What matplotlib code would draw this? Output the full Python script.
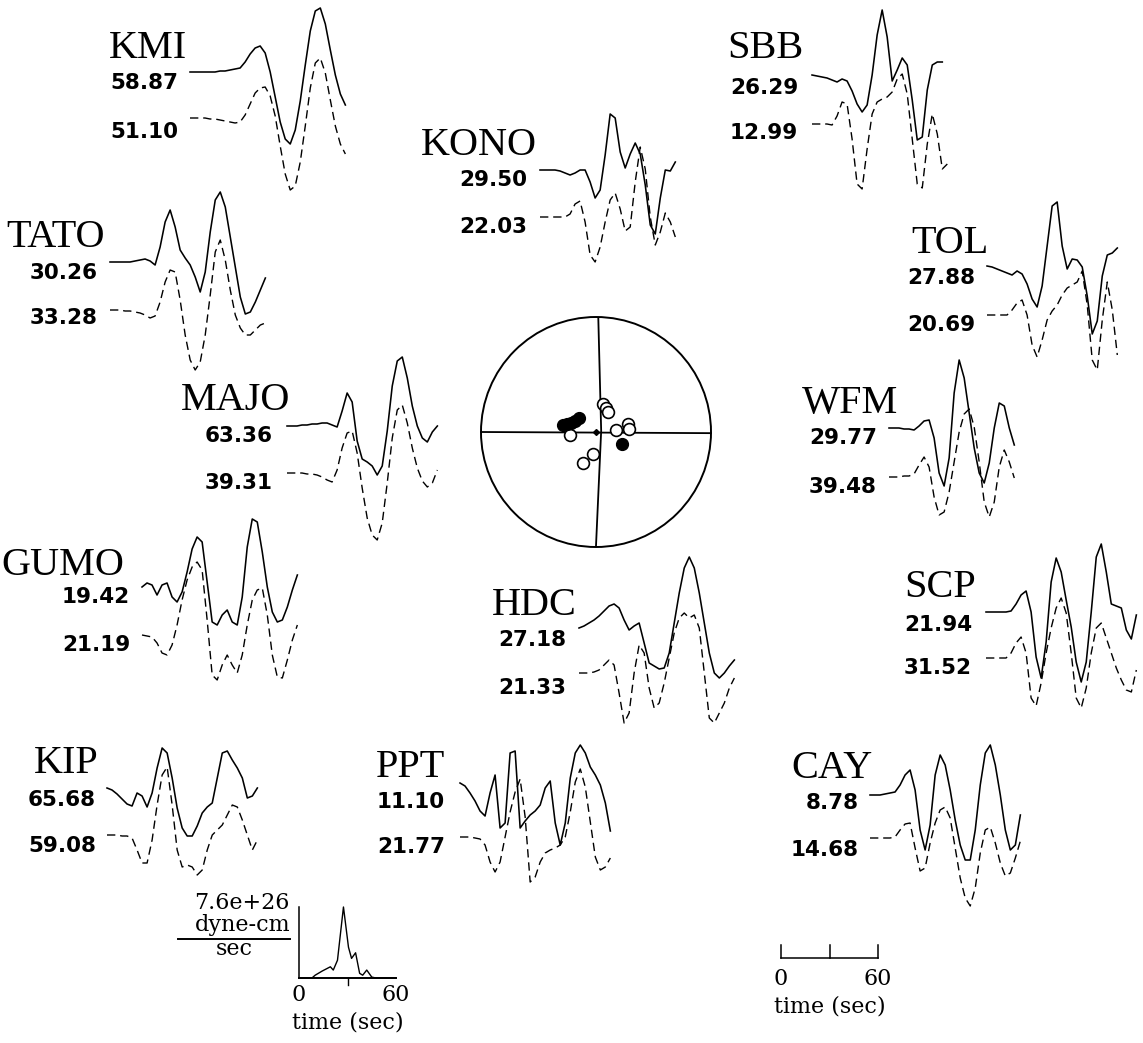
import numpy as np
import matplotlib
matplotlib.use("Agg")
import matplotlib.pyplot as plt
from matplotlib.patches import Circle

# ---------------------------------------------------------------------------
# Waveforms: observed (solid) and synthetic (dashed), amplitude samples taken
# every SAMPLE_INTERVAL seconds, normalised display units (up positive).
# ---------------------------------------------------------------------------
SAMPLE_INTERVAL = 3.1          # s between samples
PX_PER_SEC = 97.0 / 60.0       # time scale of the record section

KMI_OBS = [0, 0, 0, 0, 0, 0, 1, 1, 2, 3, 4, 10, 18, 24, 26, 19, 0, -25, -50, -67, -72, -58, -29, 7, 41, 61, 64, 48, 22, -3, -22, -33]
KMI_SYN = [0, 0, 0, 0, -1, -1, -2, -3, -4, -5, -4, 3, 14, 25, 30, 31, 22, 2, -28, -56, -72, -68, -44, -8, 30, 55, 60, 45, 18, -8, -26, -36]

KONO_OBS = [0, 0, 0, 0, -1, -3, -5, -3, 0, 0, -12, -28, -20, 15, 56, 52, 18, 2, 16, 27, 16, -15, -55, -64, -28, 0, -1, 8]
KONO_SYN = [0, 0, 0, 0, 0, 0, 3, 13, 16, -5, -38, -45, -30, -5, 17, 24, 8, -14, -10, 35, 70, 48, 0, -28, -15, 4, -5, -20]

SBB_OBS = [0, -1, -2, -3, -5, -7, -4, -6, -16, -29, -37, -30, 0, 40, 65, 38, -6, 5, 17, 10, -25, -65, -62, -15, 10, 13, 13]
SBB_SYN = [0, 0, 0, 0, -1, 8, 22, 20, -15, -60, -65, -25, 10, 22, 25, 27, 32, 45, 50, 30, -15, -60, -64, -20, 10, -10, -45, -40]

TATO_OBS = [0, 0, 0, 0, 0, 1, 2, 3, 1, -3, 15, 40, 52, 35, 12, 4, -3, -15, -30, -10, 30, 62, 70, 55, 25, -5, -35, -52, -50, -40, -28, -16]
TATO_SYN = [0, 0, 0, -1, -1, -2, -3, -5, -8, -6, 8, 28, 40, 38, 10, -25, -50, -60, -52, -25, 15, 58, 70, 50, 20, -5, -18, -25, -25, -20, -15, -13]

TOL_OBS = [0, -1, -3, -5, -7, -9, -5, -8, -18, -33, -41, -20, 20, 60, 64, 20, -3, 7, 6, -1, -30, -68, -55, -10, 11, 13, 18]
TOL_SYN = [0, 0, 0, 0, 0, 5, 12, 15, 0, -30, -42, -25, -5, 4, 10, 20, 27, 30, 33, 44, 10, -45, -55, -5, 33, 5, -40]

MAJO_OBS = [0, 0, 0, 1, 1, 2, 2, 3, 3, 1, -1, 15, 33, 24, -15, -33, -36, -40, -49, -40, -5, 40, 65, 69, 48, 20, 0, -12, -16, -6, 0]
MAJO_SYN = [0, 0, 0, 0, -1, -1, -2, -4, -7, -9, 3, 25, 40, 42, 20, -15, -45, -62, -67, -50, -10, 35, 63, 68, 50, 25, 5, -8, -14, -10, 3]

WFM_OBS = [0, 0, 0, -1, -1, -2, 2, 7, 8, -10, -45, -58, -30, 35, 68, 50, 15, -20, -45, -55, -35, 0, 25, 22, 0, -17]
WFM_SYN = [0, 0, 0, 1, 1, 3, 12, 20, 10, -20, -38, -35, -15, 15, 45, 63, 68, 50, 15, -25, -40, -25, 10, 27, 15, -1]

GUMO_OBS = [0, 4, 2, -8, 2, 4, -10, -15, -5, 15, 38, 50, 45, 5, -35, -38, -28, -23, -35, -38, -10, 40, 68, 65, 35, 0, -25, -35, -33, -20, -3, 12]
GUMO_SYN = [0, -1, -2, -8, -18, -20, -10, 10, 35, 55, 68, 73, 65, 15, -40, -45, -30, -20, -30, -38, -20, 10, 35, 45, 47, 20, -20, -42, -43, -25, -5, 10]

HDC_OBS = [0, 2, 5, 8, 12, 17, 22, 24, 20, 8, -2, 2, 5, -15, -35, -38, -41, -40, -25, 5, 35, 60, 71, 60, 35, 5, -25, -45, -50, -45, -38, -32]
HDC_SYN = [0, 0, 0, 1, 3, 8, 13, 8, -20, -50, -40, 0, 28, 20, -15, -35, -30, -10, 15, 40, 55, 60, 55, 58, 45, 0, -45, -50, -40, -30, -15, -5]

SCP_OBS = [0, 0, 0, 0, 0, 1, 8, 17, 21, 0, -45, -66, -30, 30, 54, 40, 12, -15, -50, -70, -50, 0, 55, 68, 40, 8, 6, 4, -18, -27, -3]
SCP_SYN = [0, 0, 0, 0, 0, 5, 15, 21, 5, -40, -48, -25, 5, 30, 50, 60, 45, 5, -40, -50, -30, 5, 30, 35, 20, 5, -10, -22, -32, -34, -12]

KIP_OBS = [0, -2, -6, -11, -16, -18, -5, -8, -19, -5, 20, 40, 35, 10, -20, -40, -48, -48, -38, -25, -19, -15, 10, 35, 37, 28, 20, 10, -10, -8, 0]
KIP_SYN = [0, 0, 0, -1, -1, -3, -15, -28, -28, -5, 30, 60, 68, 30, -15, -32, -30, -32, -40, -35, -15, 0, 5, 10, 20, 30, 28, 15, 0, -15, -5]

PPT_OBS = [0, -3, -10, -18, -28, -33, -10, 8, -45, -40, 30, 32, -45, -38, -32, -28, -22, -5, 2, -40, -62, -40, 5, 30, 38, 30, 16, 8, -2, -20, -48]
PPT_SYN = [0, 0, 0, -1, -2, -8, -25, -35, -25, 0, 25, 45, 58, 20, -45, -40, -25, -16, -13, -11, -8, 0, 25, 55, 68, 50, 15, -20, -33, -30, -21]

CAY_OBS = [0, 0, 0, 1, 2, 3, 10, 20, 25, 5, -35, -55, -30, 20, 40, 30, 5, -25, -50, -65, -65, -35, 10, 42, 50, 30, 0, -35, -55, -50, -20]
CAY_SYN = [0, 0, 0, 0, 0, 1, 8, 14, 15, -10, -33, -30, -5, 15, 28, 31, 20, -10, -40, -60, -68, -50, -15, 8, 11, -5, -25, -38, -35, -20, -3]

STATIONS = ["KMI", "KONO", "SBB", "TATO", "TOL", "MAJO", "WFM",
            "GUMO", "HDC", "SCP", "KIP", "PPT", "CAY"]
OBS_PEAK = ["58.87", "29.50", "26.29", "30.26", "27.88", "63.36", "29.77",
            "19.42", "27.18", "21.94", "65.68", "11.10", "8.78"]
SYN_PEAK = ["51.10", "22.03", "12.99", "33.28", "20.69", "39.31", "39.48",
            "21.19", "21.33", "31.52", "59.08", "21.77", "14.68"]
TRACES = {
    "KMI": (KMI_OBS, KMI_SYN), "KONO": (KONO_OBS, KONO_SYN),
    "SBB": (SBB_OBS, SBB_SYN), "TATO": (TATO_OBS, TATO_SYN),
    "TOL": (TOL_OBS, TOL_SYN), "MAJO": (MAJO_OBS, MAJO_SYN),
    "WFM": (WFM_OBS, WFM_SYN), "GUMO": (GUMO_OBS, GUMO_SYN),
    "HDC": (HDC_OBS, HDC_SYN), "SCP": (SCP_OBS, SCP_SYN),
    "KIP": (KIP_OBS, KIP_SYN), "PPT": (PPT_OBS, PPT_SYN),
    "CAY": (CAY_OBS, CAY_SYN),
}

# First-motion polarities on the focal sphere (unit-circle coordinates)
DILAT_X = [0.06, 0.09, 0.10, 0.28, 0.29, 0.17, -0.23, -0.03, -0.11]
DILAT_Y = [0.24, 0.21, 0.17, 0.07, 0.03, 0.02, -0.03, -0.19, -0.27]
COMP_X = [-0.29, -0.25, -0.22, -0.18, -0.15, 0.23]
COMP_Y = [0.06, 0.07, 0.08, 0.10, 0.12, -0.10]
# Nodal planes (unit-circle coordinates)
PLANE1_X = [-1.0, 1.0]
PLANE1_Y = [0.0, -0.01]
PLANE2_X = [0.02, 0.045, 0.0]
PLANE2_Y = [0.99, 0.01, -0.99]

# Source time function
STF_T = [0, 8, 10, 14.4, 19.4, 21.2, 23.8, 27.5, 30.6, 32.5, 35, 37.5, 39.4, 41.9, 45, 47.5, 60]
STF_RATE = [0, 0, 0.3, 0.75, 1.2, 0.85, 1.9, 7.6, 3.3, 2.1, 2.7, 0.5, 0.3, 0.85, 0.1, 0, 0]
STF_MAX = 7.6   # x 1e26 dyne-cm/sec

# ---------------------------------------------------------------------------
# Page layout (pixel coordinates on the page)
# trace x0, obs baseline, syn baseline, name x, name baseline, number right, num1 y, num2 y
# ---------------------------------------------------------------------------
LAYOUT = {
    "KMI":  (190, 72, 118, 109, 58, 178, 83, 132),
    "KONO": (540, 170, 217, 421, 155, 527, 180, 227),
    "SBB":  (812, 75, 124, 727, 58, 798, 88, 133),
    "TATO": (110, 262, 310, 6, 247, 98, 273, 318),
    "TOL":  (987, 266, 315, 911, 253, 975, 278, 325),
    "MAJO": (287, 426, 473, 181, 410, 273, 436, 483),
    "WFM":  (889, 428, 477, 802, 413, 877, 438, 487),
    "GUMO": (142, 587, 635, 1, 575, 130, 597, 645),
    "HDC":  (579, 628, 673, 492, 615, 566, 640, 688),
    "SCP":  (986, 612, 658, 904, 597, 972, 625, 668),
    "KIP":  (107, 788, 835, 34, 773, 96, 800, 846),
    "PPT":  (460, 783, 837, 376, 777, 445, 802, 847),
    "CAY":  (870, 795, 838, 791, 778, 859, 803, 850),
}

W, H = 1143, 1043
fig = plt.figure(figsize=(W / 100, H / 100), dpi=100)
ax = fig.add_axes([0, 0, 1, 1])
ax.set_xlim(0, W)
ax.set_ylim(H, 0)
ax.axis("off")

NAME_FONT = dict(family=["Liberation Serif", "DejaVu Serif"], fontsize=29)
NUM_FONT = dict(family=["DejaVu Sans"], fontsize=15.5, fontweight="bold")
SMALL_FONT = dict(family=["DejaVu Serif"], fontsize=16)
DASH = (0, (6, 3.5))

for name, a1, a2 in zip(STATIONS, OBS_PEAK, SYN_PEAK):
    x0, yo, ys, nx, nb, nr, n1, n2 = LAYOUT[name]
    obs, syn = TRACES[name]
    t_obs = np.arange(len(obs)) * SAMPLE_INTERVAL
    t_syn = np.arange(len(syn)) * SAMPLE_INTERVAL
    ax.plot(x0 + t_obs * PX_PER_SEC, yo - np.array(obs), color="black", lw=1.15,
            solid_joinstyle="round")
    ax.plot(x0 + t_syn * PX_PER_SEC, ys - np.array(syn), color="black", lw=1.0,
            linestyle=DASH)
    ax.text(nx, nb, name, ha="left", va="baseline", **NAME_FONT)
    ax.text(nr, n1, a1, ha="right", va="center", **NUM_FONT)
    ax.text(nr, n2, a2, ha="right", va="center", **NUM_FONT)

# Focal mechanism
cx, cy, r = 596, 432, 115
ax.add_patch(Circle((cx, cy), r, fill=False, lw=1.4, color="black"))
ax.plot(cx + r * np.array(PLANE1_X), cy - r * np.array(PLANE1_Y), color="black", lw=1.3)
ax.plot(cx + r * np.array(PLANE2_X), cy - r * np.array(PLANE2_Y), color="black", lw=1.3)
ax.plot(cx + r * np.array(DILAT_X), cy - r * np.array(DILAT_Y), "o", ms=8.5,
        mfc="white", mec="black", mew=1.2)
ax.plot(cx + r * np.array(COMP_X), cy - r * np.array(COMP_Y), "o", ms=8.5,
        mfc="black", mec="black")
ax.plot([cx], [cy], "D", ms=3, color="black")

# Source time function
sx0, sy0, sh = 299, 978, 71
ax.plot([sx0, sx0], [sy0, sy0 - sh], color="black", lw=1.1)
ax.plot([sx0, sx0 + 60 * PX_PER_SEC], [sy0, sy0], color="black", lw=1.4)
ax.plot([sx0 + 30 * PX_PER_SEC] * 2, [sy0, sy0 + 7], color="black", lw=1.0)
ax.plot(sx0 + np.array(STF_T) * PX_PER_SEC, sy0 - np.array(STF_RATE) / STF_MAX * sh,
        color="black", lw=1.0)
ax.text(sx0, 995, "0", ha="center", va="center", **SMALL_FONT)
ax.text(sx0 + 60 * PX_PER_SEC, 995, "60", ha="center", va="center", **SMALL_FONT)
ax.text(sx0 + 30 * PX_PER_SEC, 1022, "time (sec)", ha="center", va="center", **SMALL_FONT)
ax.text(290, 903, "7.6e+26", ha="right", va="center", **SMALL_FONT)
ax.text(290, 925, "dyne-cm", ha="right", va="center", **SMALL_FONT)
ax.plot([178, 290], [939, 939], color="black", lw=1.4)
ax.text(234, 949, "sec", ha="center", va="center", **SMALL_FONT)

# Time scale bar
bx0, by = 781, 958
ax.plot([bx0, bx0 + 60 * PX_PER_SEC], [by, by], color="black", lw=1.1)
for tk in (0, 30, 60):
    ax.plot([bx0 + tk * PX_PER_SEC] * 2, [by, by - 13], color="black", lw=1.1)
ax.text(bx0, 979, "0", ha="center", va="center", **SMALL_FONT)
ax.text(bx0 + 60 * PX_PER_SEC, 979, "60", ha="center", va="center", **SMALL_FONT)
ax.text(bx0 + 30 * PX_PER_SEC, 1006, "time (sec)", ha="center", va="center", **SMALL_FONT)

fig.savefig("out.png", dpi=100, facecolor="white")
